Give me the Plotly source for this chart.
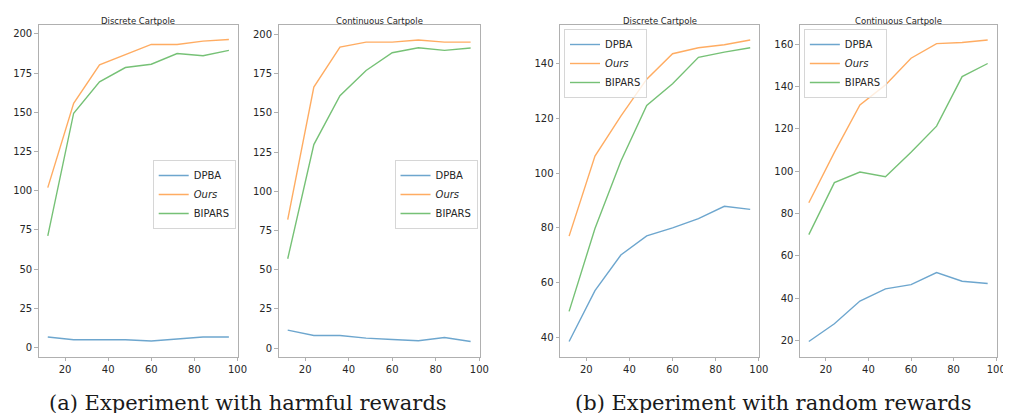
import plotly.graph_objects as go

x_vals = [12, 24, 36, 48, 60, 72, 84, 96]

# (a) harmful rewards
h_disc_dpba = [6.8, 5.1, 5.1, 5.1, 4.3, 5.5, 6.8, 6.8]
h_disc_ours = [102, 155.7, 180.2, 186.5, 193.2, 193.2, 195.3, 196.4]
h_disc_bipars = [71.3, 149.4, 169.4, 178.5, 180.6, 187.4, 186.0, 189.4]

h_cont_dpba = [11.5, 8.1, 8.1, 6.4, 5.5, 4.7, 6.8, 4.3]
h_cont_ours = [81.9, 166.4, 191.9, 195.1, 195.1, 196.4, 195.1, 195.1]
h_cont_bipars = [57.0, 129.8, 160.9, 177.0, 188.3, 191.5, 189.8, 191.3]

# (b) random rewards
r_disc_dpba = [38.5, 57.1, 70.1, 77.1, 80.0, 83.4, 87.9, 86.8]
r_disc_ours = [77.0, 106.3, 120.9, 134.4, 143.7, 145.9, 147.0, 148.7]
r_disc_bipars = [49.5, 79.8, 104.4, 124.8, 132.7, 142.4, 144.3, 145.9]

r_cont_dpba = [19.5, 27.9, 38.6, 44.4, 46.4, 52.1, 48.0, 46.9]
r_cont_ours = [85.1, 108.9, 131.3, 140.8, 153.4, 160.3, 160.8, 162.0]
r_cont_bipars = [70.0, 94.6, 99.6, 97.4, 109.0, 121.3, 144.7, 150.9]

series_names = ["DPBA", "<i>Ours</i>", "BIPARS"]
panel_titles = ["Discrete Cartpole", "Continuous Cartpole", "Discrete Cartpole", "Continuous Cartpole"]
captions = ["(a) Experiment with harmful rewards", "(b) Experiment with random rewards"]
x_ticks = [20, 40, 60, 80, 100]
y_ticks_a = [0, 25, 50, 75, 100, 125, 150, 175, 200]
y_ticks_b1 = [40, 60, 80, 100, 120, 140]
y_ticks_b2 = [20, 40, 60, 80, 100, 120, 140, 160]

colors = ["rgba(31,119,180,0.65)", "rgba(255,127,14,0.65)", "rgba(44,160,44,0.65)"]

W, H = 1011, 413
panels = [
    dict(data=[h_disc_dpba, h_disc_ours, h_disc_bipars], px=(31, 232), yr=(-5.6, 205.6), yt=y_ticks_a, leg=(146, 152)),
    dict(data=[h_cont_dpba, h_cont_ours, h_cont_bipars], px=(273, 476), yr=(-5.3, 206.0), yt=y_ticks_a, leg=(390, 152)),
    dict(data=[r_disc_dpba, r_disc_ours, r_disc_bipars], px=(557, 758), yr=(33.0, 154.2), yt=y_ticks_b1, leg=(561, 21)),
    dict(data=[r_cont_dpba, r_cont_ours, r_cont_bipars], px=(799, 997.5), yr=(12.4, 169.1), yt=y_ticks_b2, leg=(803, 21)),
]
top_px, bot_px = 17, 348.5

fig = go.Figure()
layout = dict(
    width=W, height=H, margin=dict(l=0, r=0, t=0, b=0),
    paper_bgcolor="white", plot_bgcolor="white",
    font=dict(family="DejaVu Sans", color="#262626"),
)
annotations = []
for i, p in enumerate(panels):
    k = "" if i == 0 else str(i + 1)
    legname = "legend" + k
    for j, (ys, nm) in enumerate(zip(p["data"], series_names)):
        fig.add_trace(go.Scatter(
            x=x_vals, y=ys, mode="lines", name=nm,
            line=dict(color=colors[j], width=1.4),
            xaxis="x" + k, yaxis="y" + k, legend=legname, showlegend=True,
        ))
    axcommon = dict(
        showgrid=False, zeroline=False, showline=True, mirror=True,
        linecolor="#b0b0b0", linewidth=1, ticks="outside", ticklen=3.5,
        tickcolor="#b0b0b0", tickfont=dict(size=10, family="DejaVu Sans", color="#262626"),
        ticklabeloverflow="allow",
    )
    layout["xaxis" + k] = dict(
        domain=[p["px"][0] / W, p["px"][1] / W], range=[7.8, 100.2],
        tickvals=x_ticks, anchor="y" + k, **axcommon,
    )
    layout["yaxis" + k] = dict(
        domain=[1 - bot_px / H, 1 - top_px / H], range=list(p["yr"]),
        tickvals=p["yt"], anchor="x" + k, **axcommon,
    )
    layout[legname] = dict(
        x=p["leg"][0] / W, y=1 - p["leg"][1] / H, xanchor="left", yanchor="top",
        bgcolor="rgba(255,255,255,0.8)", bordercolor="#d6d6d6", borderwidth=1,
        font=dict(size=10, family="DejaVu Sans", color="#262626"),
        itemwidth=30, tracegroupgap=0,
    )
    annotations.append(dict(
        text=panel_titles[i], x=(p["px"][0] + p["px"][1]) / 2 / W, y=1 - 13 / H,
        xref="paper", yref="paper", showarrow=False, xanchor="center", yanchor="middle",
        font=dict(size=8.5, family="DejaVu Sans", color="#262626"),
    ))

for cx, txt in zip([242, 772], captions):
    annotations.append(dict(
        text=txt, x=cx / W, y=0, xref="paper", yref="paper", yshift=4,
        showarrow=False, xanchor="center", yanchor="bottom",
        font=dict(size=21, family="DejaVu Serif", color="#1a1a1a"),
    ))
layout["annotations"] = annotations
fig.update_layout(**layout)
fig.write_html("out.html")
